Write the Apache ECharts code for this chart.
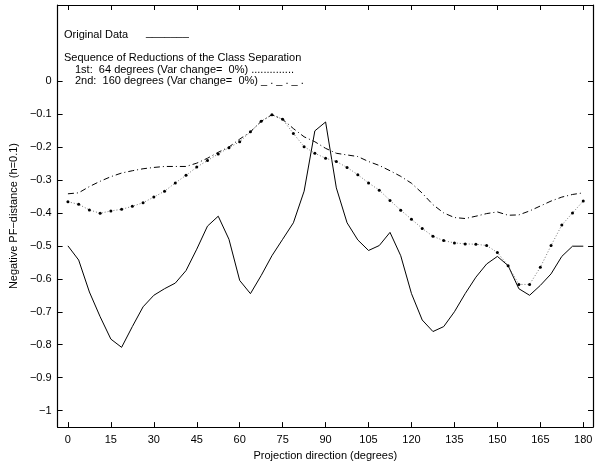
<!DOCTYPE html>
<html>
<head>
<meta charset="utf-8">
<script src="https://cdn.jsdelivr.net/npm/echarts@6/dist/echarts.min.js"></script>
<style>
  html, body { margin: 0; padding: 0; background: #fff; }
  #chart { width: 596px; height: 466px; }
</style>
</head>
<body>
<div id="chart"></div>
<script>
  // projection angles (degrees)
  const angles = [0, 3.75, 7.5, 11.25, 15, 18.75, 22.5, 26.25, 30, 33.75, 37.5, 41.25, 45, 48.75,
    52.5, 56.25, 60, 63.75, 67.5, 71.25, 75, 78.75, 82.5, 86.25, 90, 93.75, 97.5, 101.25, 105,
    108.75, 112.5, 116.25, 120, 123.75, 127.5, 131.25, 135, 138.75, 142.5, 146.25, 150, 153.75,
    157.5, 161.25, 165, 168.75, 172.5, 176.25, 180]

  // original data (solid)
  const original = [-0.50, -0.543, -0.64, -0.715, -0.783, -0.808, -0.745, -0.685, -0.65, -0.63,
    -0.613, -0.575, -0.51, -0.44, -0.41, -0.48, -0.605, -0.645, -0.59, -0.53, -0.48, -0.43,
    -0.334, -0.151, -0.124, -0.324, -0.43, -0.482, -0.514, -0.499, -0.459, -0.53, -0.645,
    -0.725, -0.76, -0.745, -0.70, -0.645, -0.595, -0.555, -0.532, -0.56, -0.63, -0.65, -0.62,
    -0.585, -0.532, -0.501, -0.501]

  // 1st reduction, 64 degrees (dotted)
  const first = [-0.366, -0.374, -0.391, -0.401, -0.394, -0.389, -0.38, -0.369, -0.352, -0.334,
    -0.309, -0.286, -0.261, -0.241, -0.221, -0.202, -0.184, -0.154, -0.122, -0.102, -0.116,
    -0.159, -0.199, -0.219, -0.234, -0.244, -0.262, -0.284, -0.309, -0.331, -0.362, -0.392,
    -0.419, -0.447, -0.471, -0.484, -0.491, -0.494, -0.495, -0.499, -0.52, -0.56, -0.617,
    -0.617, -0.565, -0.499, -0.437, -0.40, -0.364]

  // 2nd reduction, 160 degrees (dash-dot)
  const second = [-0.342, -0.339, -0.32, -0.304, -0.29, -0.279, -0.272, -0.266, -0.262, -0.259,
    -0.259, -0.259, -0.249, -0.234, -0.216, -0.20, -0.176, -0.154, -0.122, -0.102, -0.116,
    -0.144, -0.169, -0.184, -0.204, -0.219, -0.224, -0.229, -0.244, -0.256, -0.272, -0.289,
    -0.31, -0.34, -0.375, -0.40, -0.414, -0.417, -0.41, -0.402, -0.397, -0.407, -0.406,
    -0.394, -0.379, -0.364, -0.352, -0.344, -0.339]

  const xTicks = [0, 15, 30, 45, 60, 75, 90, 105, 120, 135, 150, 165, 180]
  const yTicks = [0, -0.1, -0.2, -0.3, -0.4, -0.5, -0.6, -0.7, -0.8, -0.9, -1]

  const FONT = '"Liberation Sans", Arial, sans-serif'
  const pairs = (ys) => angles.map((a, i) => [a, ys[i]])
  const minus = (v) => String(Math.round(v * 10) / 10).replace('-', '\u2212')

  const axisLine = { show: true, onZero: false, lineStyle: { color: '#000', width: 1.2 } }
  const tick = (vals) => ({ show: true, inside: true, length: 5, customValues: vals, lineStyle: { color: '#000' } })

  const chart = echarts.init(document.getElementById('chart'), null, { renderer: 'canvas' })

  chart.setOption({
    animation: false,
    backgroundColor: '#fff',
    grid: { left: 54, right: 3, top: 5, bottom: 35, show: false },
    xAxis: [
      {
        type: 'value', min: -3.6, max: 183.4, position: 'bottom',
        axisLine, axisTick: tick(xTicks), splitLine: { show: false },
        axisLabel: { customValues: xTicks, color: '#000', fontSize: 11, fontFamily: FONT, margin: 7 },
        name: 'Projection direction (degrees)', nameLocation: 'middle', nameGap: 21,
        nameTextStyle: { color: '#000', fontSize: 11, fontFamily: FONT }
      },
      {
        type: 'value', min: -3.6, max: 183.4, position: 'top',
        axisLine, axisTick: tick(xTicks), axisLabel: { show: false }, splitLine: { show: false }
      }
    ],
    yAxis: [
      {
        type: 'value', min: -1.05, max: 0.231, position: 'left',
        axisLine, axisTick: tick(yTicks), splitLine: { show: false },
        axisLabel: { customValues: yTicks, formatter: minus, color: '#000', fontSize: 11, fontFamily: FONT, margin: 6 },
        name: 'Negative PF\u2212distance (h=0.1)', nameLocation: 'middle', nameGap: 34,
        nameTextStyle: { color: '#000', fontSize: 11, fontFamily: FONT }
      },
      {
        type: 'value', min: -1.05, max: 0.231, position: 'right',
        axisLine, axisTick: tick(yTicks), axisLabel: { show: false }, splitLine: { show: false }
      }
    ],
    series: [
      {
        name: 'Original Data', type: 'line', data: pairs(original), showSymbol: false,
        lineStyle: { color: '#000', width: 1 }
      },
      {
        name: '1st', type: 'line', data: pairs(first), symbol: 'circle', symbolSize: 3,
        itemStyle: { color: '#000' },
        lineStyle: { color: '#777', width: 1, type: [1, 2] }
      },
      {
        name: '2nd', type: 'line', data: pairs(second), showSymbol: false,
        lineStyle: { color: '#000', width: 1, type: [6, 3, 1, 3] }
      }
    ],
    graphic: [
      { type: 'text', left: 64, top: 29, style: { text: 'Original Data', font: '11px ' + FONT, fill: '#000' } },
      { type: 'text', left: 146, top: 27, style: { text: '_______', font: '11px ' + FONT, fill: '#000' } },
      { type: 'text', left: 64, top: 52, style: { text: 'Sequence of Reductions of the Class Separation', font: '11px ' + FONT, fill: '#000' } },
      { type: 'text', left: 75, top: 64, style: { text: '1st:  64 degrees (Var change=  0%) ..............', font: '11px ' + FONT, fill: '#000' } },
      { type: 'text', left: 75, top: 75, style: { text: '2nd:  160 degrees (Var change=  0%) _ . _ . _ .', font: '11px ' + FONT, fill: '#000' } }
    ]
  })
</script>
</body>
</html>
